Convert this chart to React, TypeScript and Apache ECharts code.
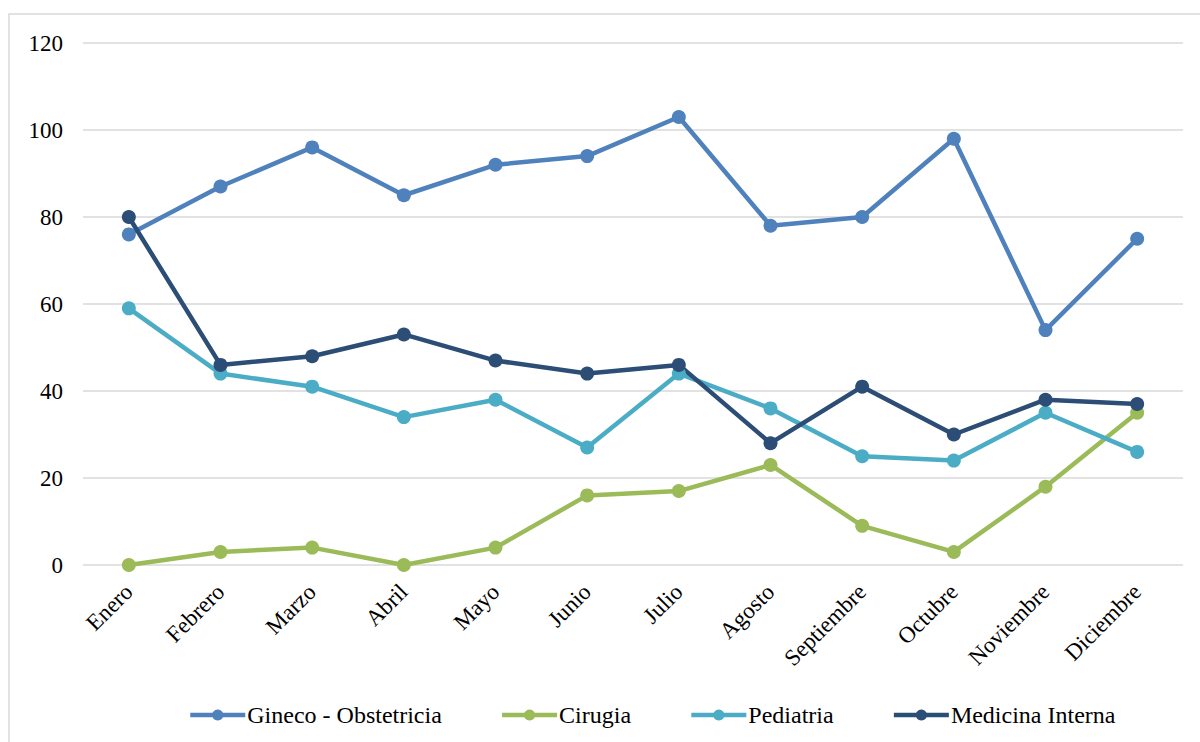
import React, { useEffect, useRef } from "react";
import * as echarts from "echarts";

const months = ["Enero", "Febrero", "Marzo", "Abril", "Mayo", "Junio", "Julio", "Agosto", "Septiembre", "Octubre", "Noviembre", "Diciembre"];
const gineco = [76, 87, 96, 85, 92, 94, 103, 78, 80, 98, 54, 75];
const cirugia = [0, 3, 4, 0, 4, 16, 17, 23, 9, 3, 18, 35];
const pediatria = [59, 44, 41, 34, 38, 27, 44, 36, 25, 24, 35, 26];
const medicina = [80, 46, 48, 53, 47, 44, 46, 28, 41, 30, 38, 37];

const seriesDefs = [
  { name: "Gineco - Obstetricia", data: gineco, color: "#4F81BD" },
  { name: "Cirugia", data: cirugia, color: "#9BBB59" },
  { name: "Pediatria", data: pediatria, color: "#4BACC6" },
  { name: "Medicina Interna", data: medicina, color: "#2C4D75" },
];

const FONT = "Liberation Serif";

export default function App() {
  const ref = useRef<HTMLDivElement>(null);
  useEffect(() => {
    if (!ref.current) return;
    const chart = echarts.init(ref.current, undefined, { renderer: "svg" });
    chart.setOption({
      animation: false,
      backgroundColor: "#ffffff",
      textStyle: { fontFamily: FONT },
      graphic: [
        {
          type: "rect",
          shape: { x: 9, y: 14, width: 1200, height: 740 },
          style: { fill: "none", stroke: "#D9D9D9", lineWidth: 1.5 },
          silent: true,
        },
      ],
      grid: { left: 83, right: 17, top: 43, bottom: 177, containLabel: false },
      xAxis: {
        type: "category",
        data: months,
        boundaryGap: true,
        axisLine: { show: false },
        axisTick: { show: false },
        axisLabel: { rotate: 45, fontSize: 23, color: "#000", fontFamily: FONT, margin: 23, interval: 0 },
      },
      yAxis: {
        type: "value",
        min: 0,
        max: 120,
        interval: 20,
        axisLine: { show: false },
        axisTick: { show: false },
        axisLabel: { fontSize: 23, color: "#000", fontFamily: FONT, margin: 20 },
        splitLine: { lineStyle: { color: "#D9D9D9", width: 1.5 } },
      },
      legend: {
        top: 698,
        left: 183,
        itemWidth: 55,
        itemHeight: 14,
        itemGap: 58,
        lineStyle: { width: 4.5 },
        textStyle: { fontSize: 24, color: "#000", fontFamily: FONT, padding: [0, 0, 0, -3] },
        data: seriesDefs.map((s) => s.name),
      },
      series: seriesDefs.map((s) => ({
        name: s.name,
        type: "line",
        data: s.data,
        symbol: "circle",
        symbolSize: 14,
        lineStyle: { width: 4.5, color: s.color },
        itemStyle: { color: s.color },
      })),
    });
    return () => chart.dispose();
  }, []);
  return <div ref={ref} style={{ position: "fixed", left: 0, top: 0, width: 1200, height: 742 }} />;
}
